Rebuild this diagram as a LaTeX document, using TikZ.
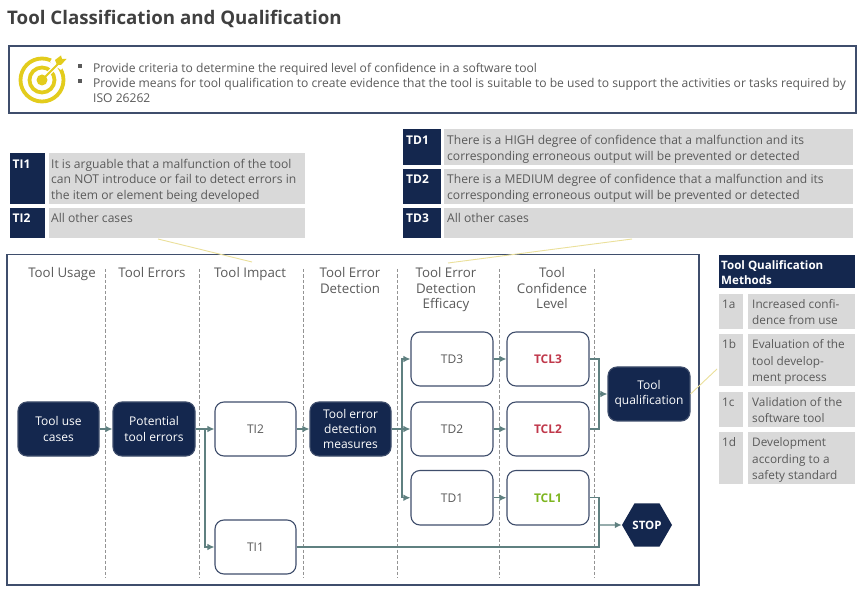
\documentclass[tikz,border=0pt]{standalone}
\usepackage{fontspec}
\setmainfont{Open Sans}
\usetikzlibrary{arrows.meta,shapes.geometric}
\definecolor{navy}{HTML}{14274E}
\definecolor{edgeblue}{HTML}{3F4E6C}
\definecolor{conn}{HTML}{5F8080}
\definecolor{greybg}{HTML}{D9D9D9}
\definecolor{body}{HTML}{5A5A5A}
\definecolor{gold}{HTML}{E3CC1C}
\definecolor{lead}{HTML}{EBE09A}
\definecolor{tclred}{HTML}{C0384B}
\definecolor{tclgreen}{HTML}{7DB51F}
\newcommand\bx[7]{%
  \pgfmathsetmacro\mycx{(#2+#4)/2}%
  \pgfmathsetmacro\mycy{(#3+#5)/2}%
  \pgfmathsetmacro\myw{#4-#2}%
  \pgfmathsetmacro\myh{#5-#3}%
  \node[#6,minimum width=\myw pt,minimum height=\myh pt] (#1) at (\mycx,\mycy) {#7};}
\tikzset{
  panel/.style={draw=edgeblue,line width=1.2pt,fill=white,inner sep=0pt},
  greyrect/.style={fill=greybg,inner sep=0pt},
  navyrect/.style={fill=navy,inner sep=0pt},
  flow/.style={draw=edgeblue,line width=1.1pt,rounded corners=9pt,fill=white,inner sep=0pt,text=body,align=center,font=\fontsize{12}{15.3}\selectfont},
  navyflow/.style={flow,fill=navy,text=white},
  txt/.style={anchor=base west,inner sep=0pt,yshift=-0.7pt,text=body,font=\fontsize{12.1}{15.3}\selectfont},
  tag/.style={anchor=base west,inner sep=0pt,yshift=-0.7pt,text=white,font=\fontsize{12}{15}\selectfont\bfseries},
  head/.style={anchor=north,inner sep=0pt,text=body,align=center,font=\fontsize{13.3}{15.3}\selectfont},
  sep/.style={draw=gray!85,line width=0.9pt,dash pattern=on 3.5pt off 2pt},
  wire/.style={draw=conn,line width=1.2pt},
  arrowwire/.style={wire,-{Latex[length=7pt,width=6.5pt]}},
  leader/.style={draw=lead,line width=0.9pt},
  bullet/.style={fill=body,inner sep=0pt,minimum size=4pt}
}
\begin{document}
\begin{tikzpicture}[x=1pt,y=-1pt]
\useasboundingbox (0,0) rectangle (865,593);
\fill[white] (0,0) rectangle (865,593);
% title
\node[anchor=base west,inner sep=0pt,text=black!75,font=\fontsize{18.7}{20}\selectfont\bfseries] (title) at (7,24.5) {Tool Classification and Qualification};
% top panel
\bx{goal}{9}{46}{856}{113}{panel}{}
% target icon
\draw[gold,line width=3.8pt] (42,80) circle (21.5);
\draw[gold,line width=3.8pt] (42,80) circle (12.5);
\draw[white,line width=4.5pt] (42,80) -- (60,62);
\fill[white] (57,50) -- (70,57) -- (61,70) -- (50,62) -- cycle;
\fill[gold] (42,80) circle (5.5);
\draw[gold,line width=2pt] (42,80) -- (60,62);
\fill[gold] (55,60) -- (61,55.5) -- (62,59) -- (66.5,59) -- (61,65) -- (57,65) -- cycle;
% goal text
\node[bullet] (b1) at (79.5,66.5) {};
\node[bullet] (b2) at (79.5,81.5) {};
\node[txt] (g1) at (93,71.5) {Provide criteria to determine the required level of confidence in a software tool};
\node[txt] (g2) at (93,86.5) {Provide means for tool qualification to create evidence that the tool is suitable to be used to support the activities or tasks required by};
\node[txt] (g3) at (93,102) {ISO 26262};
% leaders
\coordinate (l1a) at (158,239); \coordinate (l1b) at (252,262);
\coordinate (l2a) at (632,239); \coordinate (l2b) at (448,263);
% TI table
\bx{ti1tag}{9.5}{153}{45}{204}{navyrect}{}
\bx{ti1bg}{49}{153}{305}{204}{greyrect}{}
\bx{ti2tag}{9.5}{208}{45}{238}{navyrect}{}
\bx{ti2bg}{49}{208}{305}{238}{greyrect}{}
\node[tag] (ti1t) at (12.5,167.5) {TI1};
\node[tag] (ti2t) at (12.5,222) {TI2};
\node[txt] (ti1a) at (51,167.5) {It is arguable that a malfunction of the tool};
\node[txt] (ti1b) at (51,182.5) {can NOT introduce or fail to detect errors in};
\node[txt] (ti1c) at (51,198.5) {the item or element being developed};
\node[txt] (ti2a) at (51,222) {All other cases};
% TD table
\bx{td1tag}{403}{129.5}{441}{165}{navyrect}{}
\bx{td1bg}{444}{129.5}{853}{165}{greyrect}{}
\bx{td2tag}{403}{169}{441}{204}{navyrect}{}
\bx{td2bg}{444}{169}{853}{204}{greyrect}{}
\bx{td3tag}{403}{208}{441}{238}{navyrect}{}
\bx{td3bg}{444}{208}{853}{238}{greyrect}{}
\node[tag] (td1t) at (406,144) {TD1};
\node[tag] (td2t) at (406,183) {TD2};
\node[tag] (td3t) at (406,222) {TD3};
\node[txt] (td1a) at (447,144) {There is a HIGH degree of confidence that a malfunction and its};
\node[txt] (td1b) at (447,159.5) {corresponding erroneous output will be prevented or detected};
\node[txt] (td2a) at (447,183) {There is a MEDIUM degree of confidence that a malfunction and its};
\node[txt] (td2b) at (447,198.5) {corresponding erroneous output will be prevented or detected};
\node[txt] (td3a) at (447,222) {All other cases};
% main panel
\draw[edgeblue,line width=1.2pt] (7,254.5) rectangle (699,585);
\draw[leader] (l1a) -- (l1b);
\draw[leader] (l2a) -- (l2b);
% separators
\foreach \sx/\sn in {105/s1,199/s2,303/s3,397/s4,499/s5,594/s6}{
  \coordinate (\sn a) at (\sx,269); \coordinate (\sn b) at (\sx,578);
  \draw[sep] (\sn a) -- (\sn b);
}
% column heads
\node[head] (h1) at (62,267.5) {Tool Usage};
\node[head] (h2) at (152,267.5) {Tool Errors};
\node[head] (h3) at (250,267.5) {Tool Impact};
\node[head] (h4) at (350,267.5) {Tool Error\\Detection};
\node[head] (h5) at (446,267.5) {Tool Error\\Detection\\Efficacy};
\node[head] (h6) at (552,267.5) {Tool\\Confidence\\Level};
% flow nodes
\bx{use}{18}{402}{99}{456}{navyflow}{Tool use\\cases}
\bx{pot}{113}{402}{195}{456}{navyflow}{Potential\\tool errors}
\bx{ti2}{215}{402}{296}{456}{flow}{TI2}
\bx{ti1}{215}{520}{296}{574}{flow}{TI1}
\bx{ted}{310}{402}{391}{456}{navyflow}{Tool error\\detection\\measures}
\bx{td3}{411}{332}{493}{386}{flow}{TD3}
\bx{td2}{411}{402}{493}{456}{flow}{TD2}
\bx{td1}{411}{470.5}{493}{525}{flow}{TD1}
\bx{tcl3}{507}{332}{589}{386}{flow,text=tclred}{\textbf{TCL3}}
\bx{tcl2}{507}{402}{589}{456}{flow,text=tclred}{\textbf{TCL2}}
\bx{tcl1}{507}{470.5}{589}{525}{flow,text=tclgreen}{\textbf{TCL1}}
\bx{qual}{608}{367}{690}{421}{navyflow}{Tool\\qualification}
\node[regular polygon,regular polygon sides=6,minimum size=50pt,inner sep=0pt,fill=navy,text=white,font=\fontsize{11.5}{14}\selectfont\bfseries] (stop) at (647,525) {STOP};
% connectors
\coordinate (j1) at (205,429);
\coordinate (j2) at (402,429);
\coordinate (j3) at (599,394);
\coordinate (j4) at (599,525);
\draw[arrowwire] (use) -- (pot);
\draw[arrowwire] (pot) -- (ti2);
\draw[arrowwire] (j1) |- (ti1.west);
\draw[arrowwire] (ti2) -- (ted);
\draw[arrowwire] (ted) -- (td2);
\draw[arrowwire] (j2) |- (td3.west);
\draw[arrowwire] (j2) |- (td1.west);
\draw[arrowwire] (td3) -- (tcl3);
\draw[arrowwire] (td2) -- (tcl2);
\draw[arrowwire] (td1) -- (tcl1);
\draw[wire] (tcl3.east) -| (j3) |- (tcl2.east);
\draw[arrowwire] (j3) -- (qual.west);
\draw[wire] (tcl1.east) -| (j4);
\draw[wire] (ti1.east) -| (j4);
\draw[arrowwire] (j4) -- (stop.west);
% methods table
\bx{qmh}{718.5}{255}{855}{288}{navyrect}{}
\node[tag,font=\fontsize{11.6}{15}\selectfont\bfseries] (qm1) at (721,268.5) {Tool Qualification};
\node[tag,font=\fontsize{11.6}{15}\selectfont\bfseries] (qm2) at (721,283.5) {Methods};
\bx{a1}{719}{294}{743}{329}{greyrect}{}
\bx{a2}{748}{294}{855}{329}{greyrect}{}
\bx{b1bg}{719}{334}{743}{386}{greyrect}{}
\bx{b2bg}{748}{334}{855}{386}{greyrect}{}
\bx{c1}{719}{392}{743}{427}{greyrect}{}
\bx{c2}{748}{392}{855}{427}{greyrect}{}
\bx{d1}{719}{432}{743}{484}{greyrect}{}
\bx{d2}{748}{432}{855}{484}{greyrect}{}
\tikzset{txs/.style={txt,font=\fontsize{11.8}{15}\selectfont}}
\node[txs] (a0) at (722,308) {1a};
\node[txs] (a3) at (752,308) {Increased confi-};
\node[txs] (a4) at (752,324) {dence from use};
\node[txs] (b0) at (722,348) {1b};
\node[txs] (b3) at (752,348) {Evaluation of the};
\node[txs] (b4) at (752,364.5) {tool develop-};
\node[txs] (b5) at (752,381) {ment process};
\node[txs] (c0) at (722,405.5) {1c};
\node[txs] (c3) at (752,405.5) {Validation of the};
\node[txs] (c4) at (752,422) {software tool};
\node[txs] (d0) at (722,446) {1d};
\node[txs] (d3) at (752,446) {Development};
\node[txs] (d4) at (752,462.5) {according to a};
\node[txs] (d5) at (752,479) {safety standard};
% qualification leader
\coordinate (l3a) at (717,369);
\draw[leader] (l3a) -- (qual.east);
\end{tikzpicture}
\end{document}
